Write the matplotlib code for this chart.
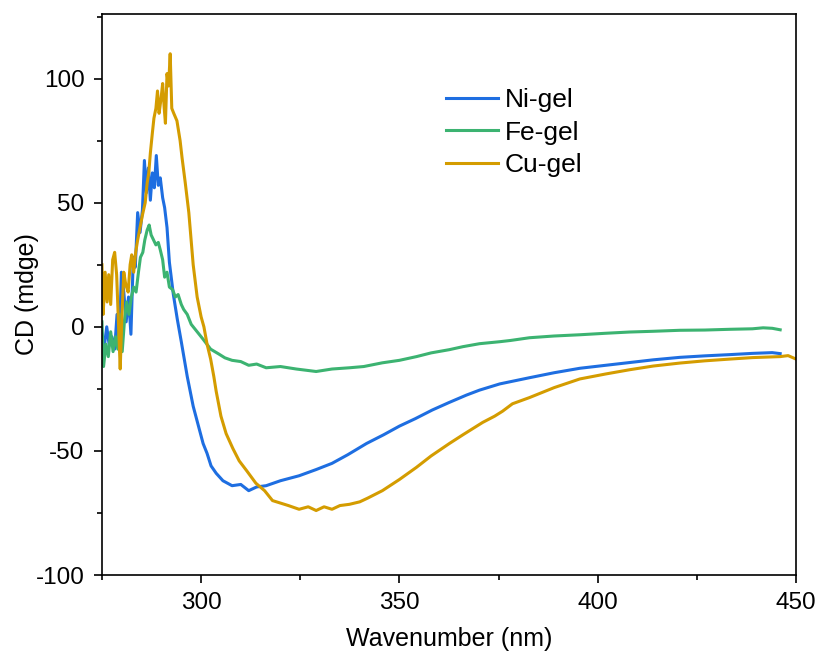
import numpy as np
import matplotlib
matplotlib.use("Agg")
import matplotlib.pyplot as plt
from matplotlib.ticker import MultipleLocator

plt.rcParams['font.family'] = ['Liberation Sans', 'DejaVu Sans']
plt.rcParams['axes.unicode_minus'] = False

# values
ni_x = [275.0, 275.5, 276.2, 276.8, 277.5, 278.2, 278.8, 279.4, 279.9, 280.5,
        281.1, 281.7, 282.3, 282.9, 283.4, 284.0, 284.6, 285.2, 285.7, 286.2,
        286.7, 287.2, 287.7, 288.2, 288.7, 289.2, 289.7, 290.3, 290.8, 291.4,
        292.0, 293.0, 294.0, 295.0, 296.5, 298.0, 299.5, 300.5, 301.5, 302.5,
        303.8, 305.5, 307.8, 310.0, 312.0, 314.0, 316.4, 320.0, 324.7, 329.0,
        333.0, 337.0, 341.7, 346.0, 350.0, 354.0, 358.3, 362.5, 366.9, 370.2,
        375.3, 382.8, 389.0, 395.5, 402.0, 408.0, 414.0, 420.7, 427.0, 433.3,
        439.0, 444.0, 446.0]
ni_cd = [-3, -9, 0, -7, -4, -9, 5, -5, 22, 14,
         2, 12, -3, 28, 24, 46, 38, 47, 67, 54,
         64, 51, 62, 56, 69, 57, 60, 52, 48, 40,
         26, 13, 3, -6, -20, -32, -41, -47, -51, -56,
         -59, -62, -64, -63.5, -66, -64.5, -64, -62, -60, -57.5,
         -55, -51.5, -47, -43.5, -40, -37, -33.5, -30.5, -27.5, -25.5,
         -23, -20.5, -18.5, -16.7, -15.5, -14.4, -13.3, -12.3, -11.7, -11.2,
         -10.7, -10.4, -10.8]

fe_x = [275.0, 275.4, 276.0, 276.6, 277.2, 277.8, 278.4, 279.0, 279.5, 280.1,
        280.7, 281.2, 281.8, 282.4, 283.0, 283.6, 284.2, 284.7, 285.3, 285.8,
        286.4, 286.9, 287.4, 288.0, 288.6, 289.2, 289.7, 290.3, 290.8, 291.4,
        292.0, 292.8, 293.5, 294.2, 295.0, 295.6, 296.5, 297.5, 299.0, 300.5,
        302.4, 304.5, 306.0, 307.8, 310.0, 312.0, 314.0, 316.4, 320.0, 324.0,
        329.0, 333.0, 337.4, 341.0, 345.7, 350.0, 354.3, 358.0, 362.6, 366.0,
        370.2, 375.3, 378.0, 382.8, 389.0, 395.5, 402.0, 408.0, 414.0, 420.7,
        427.0, 433.3, 439.0, 441.7, 444.0, 446.0]
fe_cd = [2, -16, -7, -12, -2, -10, -4, -9, 5, -10,
         3, 10, 5, 12, 16, 14, 22, 28, 30, 35,
         39, 41, 37, 35, 33, 34, 31, 27, 20, 22,
         16, 15, 12, 13, 9, 7, 5, 1, -2, -5,
         -9, -11, -12.5, -13.5, -14, -15.5, -15, -16.5, -16, -17,
         -18, -17, -16.5, -16, -14.5, -13.5, -12, -10.5, -9.2, -8,
         -6.8, -6, -5.5, -4.4, -3.7, -3.2, -2.6, -2.1, -1.8, -1.4,
         -1.3, -1.0, -0.8, -0.4, -0.6, -1.2]

cu_x = [275.0, 275.3, 275.8, 276.3, 276.7, 277.2, 277.7, 278.2, 278.7, 279.2,
        279.6, 280.0, 280.5, 281.0, 281.6, 282.1, 282.5, 283.0, 283.5, 284.0,
        284.6, 285.2, 285.9, 286.4, 286.8, 287.2, 287.7, 288.1, 288.6, 289.0,
        289.4, 289.9, 290.3, 290.7, 291.0, 291.4, 291.8, 292.2, 292.6, 293.1,
        293.9, 294.7, 295.2, 296.0, 296.9, 298.0, 299.0, 300.0, 300.7, 301.5,
        302.4, 303.2, 303.8, 305.0, 306.3, 308.0, 309.6, 311.5, 313.8, 316.0,
        318.0, 320.0, 322.0, 324.7, 327.0, 329.0, 331.0, 333.0, 335.0, 337.4,
        340.0, 342.0, 345.7, 350.0, 354.3, 358.0, 362.6, 366.0, 371.0, 374.0,
        376.0, 378.5, 382.8, 389.0, 395.5, 402.0, 408.0, 414.0, 420.7, 427.0,
        433.3, 439.0, 446.0, 448.0, 450.0]
cu_cd = [25, 5, 22, 10, 21, 9, 27, 30, 21, 0,
         -17, 3, 22, 17, 14, 25, 29, 22, 30, 35,
         40, 45, 50, 58, 62, 70, 78, 84, 88, 95,
         86, 92, 98, 88, 82, 102, 97, 110, 88, 86,
         83, 75, 68, 58, 46, 25, 12, 4, 0, -7,
         -13, -20, -26, -36, -43, -49, -54, -58, -63, -66,
         -70, -71, -72, -73.5, -72.5, -74, -72.5, -73.5, -72, -71.5,
         -70.5, -69, -66, -61.5, -56.6, -52, -47, -43.5, -38.5, -36,
         -34, -31, -28.5, -24.5, -21, -19, -17.3, -15.8, -14.6, -13.7,
         -13, -12.4, -12, -11.6, -13]

fig = plt.figure(figsize=(8.21, 6.52), dpi=100)
ax = fig.add_axes([0.1242, 0.118, 0.8454, 0.8605])

ax.plot(ni_x, ni_cd, color='#1e6ee1', lw=2.2, label='Ni-gel')
ax.plot(fe_x, fe_cd, color='#3cb371', lw=2.2, label='Fe-gel')
ax.plot(cu_x, cu_cd, color='#d49c00', lw=2.2, label='Cu-gel')

ax.set_xlim(275, 450)
ax.set_ylim(-100, 126)
ax.xaxis.set_major_locator(MultipleLocator(50))
ax.xaxis.set_minor_locator(MultipleLocator(25))
ax.yaxis.set_major_locator(MultipleLocator(50))
ax.yaxis.set_minor_locator(MultipleLocator(25))
ax.tick_params(which='major', direction='out', length=6, width=1.2,
               labelsize=17.5, pad=6.5)
ax.tick_params(which='minor', direction='out', length=3.5, width=1.2)
for s in ax.spines.values():
    s.set_linewidth(1.2)

ax.set_xlabel('Wavenumber (nm)', fontsize=18, labelpad=9)
ax.set_ylabel('CD (mdge)', fontsize=18, labelpad=-2)

ax.legend(loc='upper left', bbox_to_anchor=(0.462, 0.91), frameon=False,
          fontsize=19, handlelength=1.95, handletextpad=0.25, labelspacing=0.32)

fig.savefig('out.png', dpi=100)
